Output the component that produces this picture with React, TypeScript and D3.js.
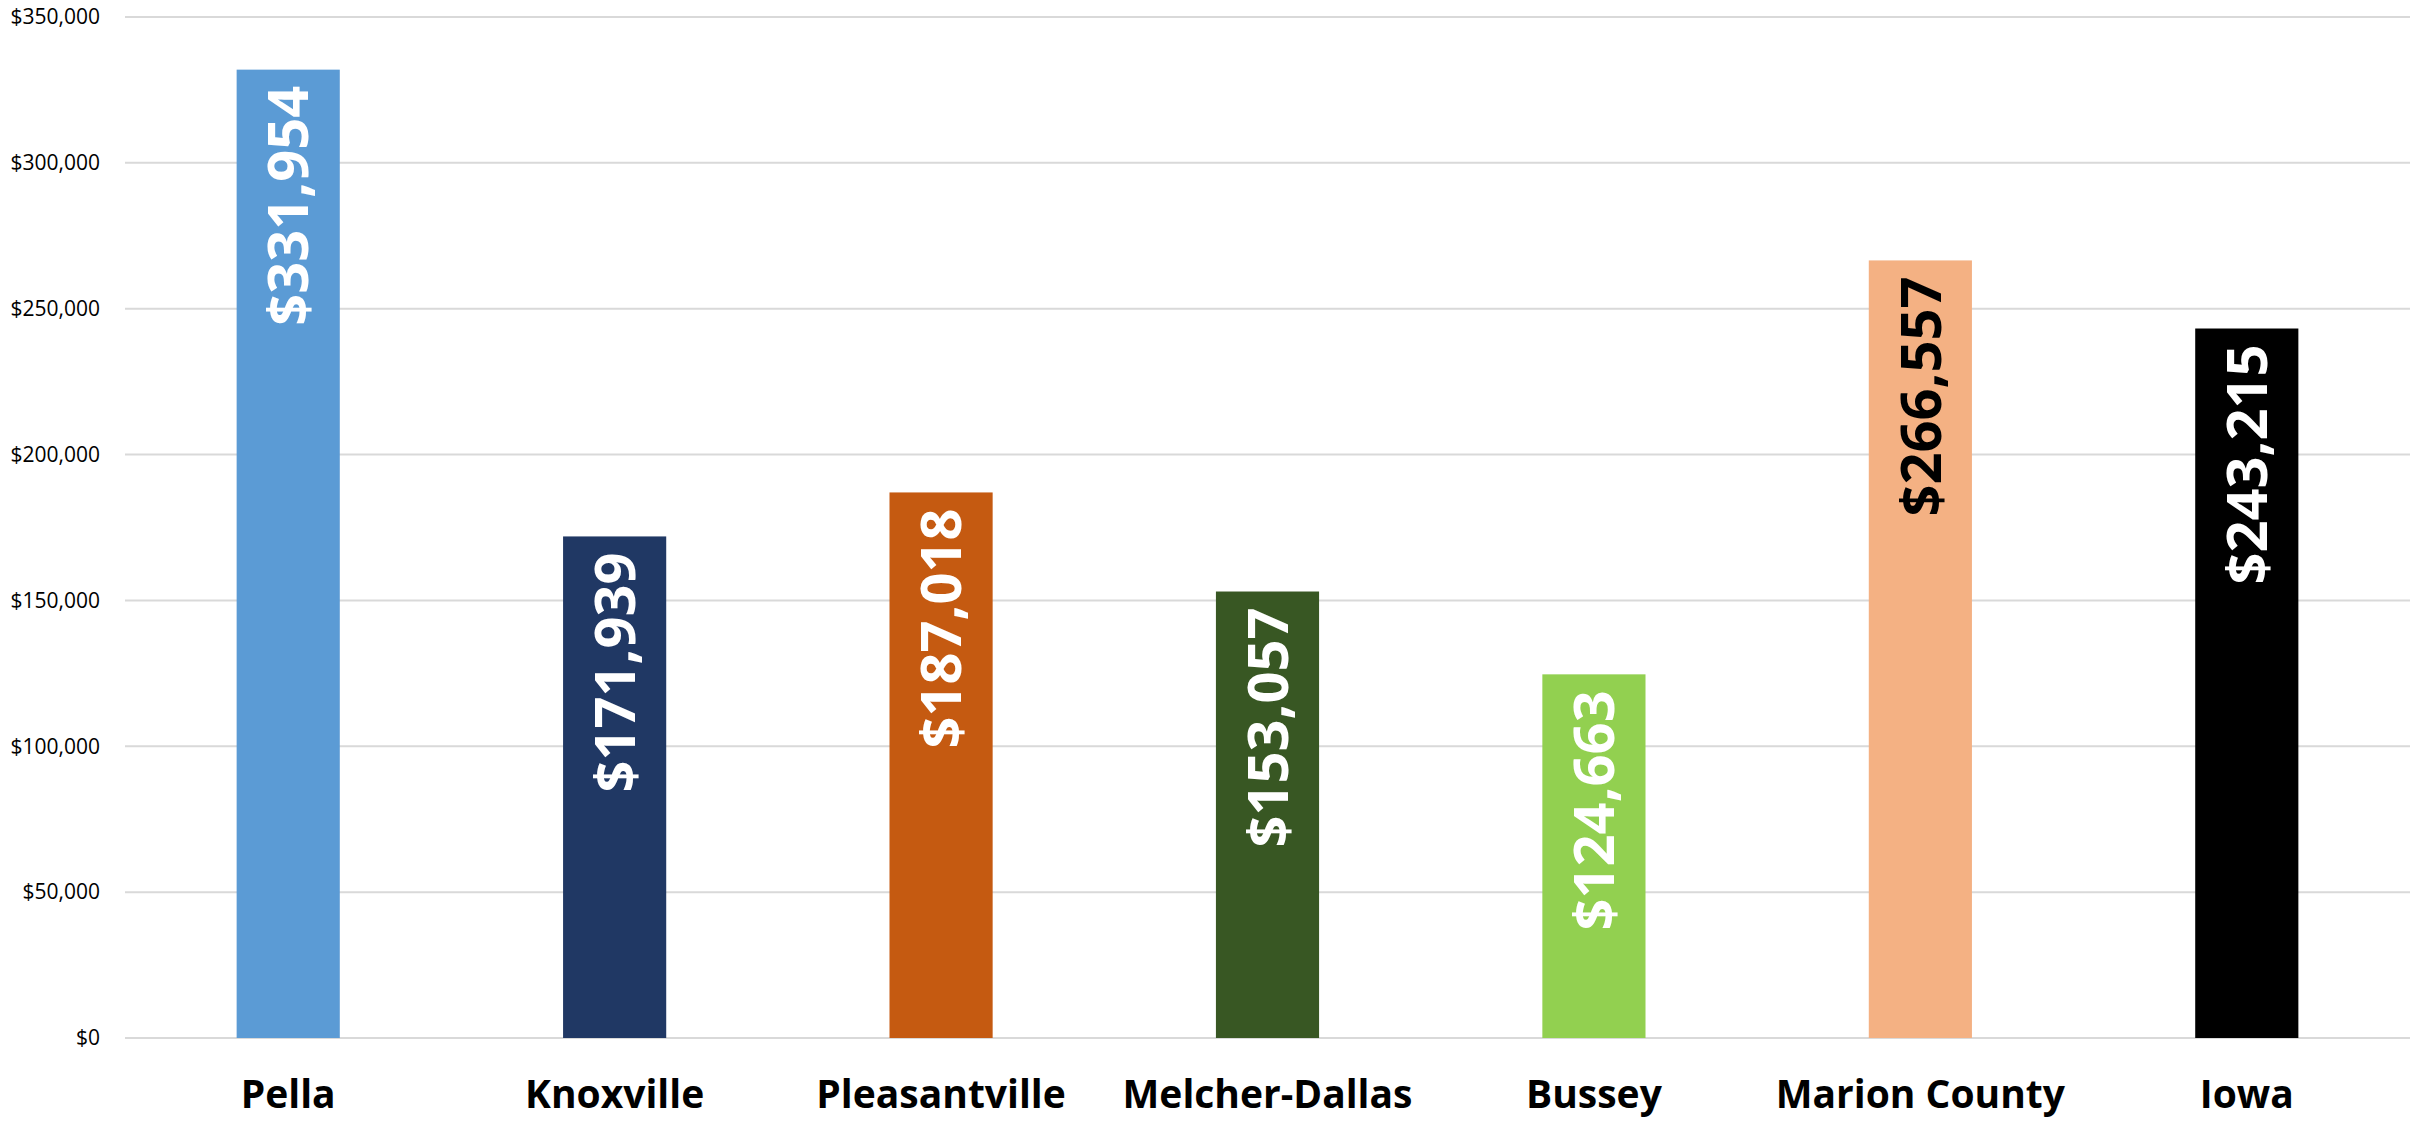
import React from "react";
import * as d3 from "d3";

const categories = ["Pella", "Knoxville", "Pleasantville", "Melcher-Dallas", "Bussey", "Marion County", "Iowa"];
const values = [331954, 171939, 187018, 153057, 124663, 266557, 243215];
const barColors = ["#5B9BD5", "#203864", "#C55A11", "#385723", "#92D050", "#F4B183", "#000000"];
const labelColors = ["#FFFFFF", "#FFFFFF", "#FFFFFF", "#FFFFFF", "#FFFFFF", "#000000", "#FFFFFF"];
const yTicks = [0, 50000, 100000, 150000, 200000, 250000, 300000, 350000];

const W = 2425;
const H = 1122;
const left = 125;
const right = 2410;
const top = 17;
const bottom = 1038;

export default function App() {
  const x = d3.scaleBand<string>().domain(categories).range([left, right]).paddingInner(0.684).paddingOuter(0.342);
  const y = d3.scaleLinear().domain([0, 350000]).range([bottom, top]);
  const fmt = d3.format("$,.0f");
  const font = "'Open Sans', 'Noto Sans', sans-serif";

  return (
    <svg width={W} height={H} style={{ position: "absolute", left: 0, top: 0, background: "#fff" }}>
      {yTicks.map((t) => (
        <g key={t}>
          <line x1={left} x2={right} y1={y(t)} y2={y(t)} stroke="#D9D9D9" strokeWidth={2} />
          <text x={100} y={y(t)} dy="0.35em" textAnchor="end" fontFamily={font} fontSize={21} fill="#000">
            {fmt(t)}
          </text>
        </g>
      ))}
      {categories.map((c, i) => {
        const bx = x(c)!;
        const bw = x.bandwidth();
        const cx = bx + bw / 2;
        const ty = y(values[i]);
        return (
          <g key={c}>
            <rect x={bx} y={ty} width={bw} height={bottom - ty} fill={barColors[i]} />
            <text
              transform={`translate(${cx},${ty + 16}) rotate(-90)`}
              textAnchor="end"
              dy="0.36em"
              fontFamily={font}
              fontWeight="bold"
              fontSize={56}
              fill={labelColors[i]}
            >
              {fmt(values[i])}
            </text>
            <text x={cx} y={1108} textAnchor="middle" fontFamily={font} fontWeight="bold" fontSize={39} fill="#000">
              {c}
            </text>
          </g>
        );
      })}
    </svg>
  );
}
